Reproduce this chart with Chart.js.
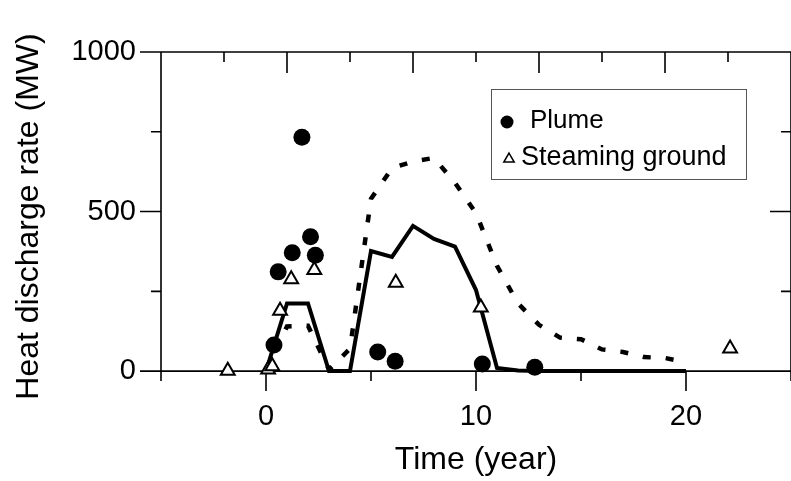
<!DOCTYPE html>
<html>
<head>
<meta charset="utf-8">
<script src="https://cdn.jsdelivr.net/npm/chart.js@4"></script>
<style>
html, body { margin: 0; padding: 0; background: #fff; overflow: hidden; }
canvas { display: block; }
</style>
</head>
<body>
<canvas id="heatChart" width="810" height="481"></canvas>
<script>
// Plume observations (year, MW)
const plumeYears = [0.38, 0.58, 1.25, 1.71, 2.12, 2.35, 5.32, 6.15, 10.3, 12.8];
const plumeMW = [82, 311, 371, 733, 421, 363, 60, 31, 22, 12];

// Steaming ground observations
const groundYears = [-1.82, 0.1, 0.3, 0.67, 1.2, 2.3, 6.18, 10.23, 22.1];
const groundMW = [1, 5, 15, 189, 288, 317, 277, 199, 71];

// Model curves, yearly
const modelYears = [0, 1, 2, 3, 4, 5, 6, 7, 8, 9, 10, 11, 12, 13, 14, 15, 16, 17, 18, 19, 20];
const modelSolid = [0, 212, 212, 0, 0, 376, 358, 455, 414, 390, 254, 10, 2, 0, 0, 0, 0, 0, 0, 0, 0];
const modelDashed = [0, 140, 142, 5, 70, 540, 636, 657, 668, 590, 495, 330, 212, 145, 105, 100, 68, 60, 44, 41, 28];

// Axis ticks
const xLabelTicks = [0, 10, 20];
const yLabelTicks = [0, 500, 1000];
const yTicks = [0, 250, 500, 750, 1000];
const xBottomTicks = [-5, 0, 5, 10, 15, 20, 25];
const xTopTicks = [-5, -2, 1, 4, 7, 10, 13, 16, 19, 22, 25];

const fontFamily = '"Liberation Sans", Arial, sans-serif';

function toPoints(xs, ys) {
    return xs.map((x, i) => ({ x: x, y: ys[i] }));
}

// Crossing axes with major / minor ticks
const axesFrame = {
    id: 'axesFrame',
    beforeDatasetsDraw(chart) {
        const { ctx, chartArea: a, scales: { x, y } } = chart;
        const y0 = y.getPixelForValue(0);
        const yTop = y.getPixelForValue(1000);
        ctx.save();
        ctx.strokeStyle = '#000';
        ctx.lineWidth = 1.6;
        ctx.beginPath();
        ctx.moveTo(a.left, yTop); ctx.lineTo(a.left, a.bottom);
        ctx.moveTo(a.right, yTop); ctx.lineTo(a.right, a.bottom);
        ctx.moveTo(a.left - 21, y0); ctx.lineTo(a.right, y0);
        ctx.moveTo(a.left - 21, yTop); ctx.lineTo(a.right, yTop);
        yTicks.forEach(v => {
            const py = y.getPixelForValue(v);
            const len = v % 500 === 0 ? 21 : 10;
            ctx.moveTo(a.left - len, py); ctx.lineTo(a.left, py);
            ctx.moveTo(a.right - len, py); ctx.lineTo(a.right, py);
        });
        xBottomTicks.forEach(v => {
            const px = x.getPixelForValue(v);
            const len = v % 10 === 0 ? 20 : 10;
            ctx.moveTo(px, y0); ctx.lineTo(px, y0 + len);
        });
        xTopTicks.forEach((v, i) => {
            const px = x.getPixelForValue(v);
            const len = i % 2 === 0 ? 21 : 10;
            ctx.moveTo(px, yTop); ctx.lineTo(px, yTop + len);
        });
        ctx.stroke();
        ctx.restore();
    }
};

// Boxed legend
const boxLegend = {
    id: 'boxLegend',
    afterDraw(chart) {
        const ctx = chart.ctx;
        ctx.save();
        ctx.strokeStyle = '#555';
        ctx.lineWidth = 1;
        ctx.strokeRect(491.5, 89.5, 255, 90);
        ctx.fillStyle = '#000';
        ctx.beginPath();
        ctx.arc(507, 122, 6.5, 0, Math.PI * 2);
        ctx.fill();
        ctx.fillStyle = '#fff';
        ctx.strokeStyle = '#000';
        ctx.lineWidth = 1.5;
        Chart.helpers.drawPoint(ctx, { pointStyle: 'triangle', radius: 6, rotation: 0, borderWidth: 1.5 }, 509, 159);
        ctx.fillStyle = '#000';
        ctx.textBaseline = 'middle';
        ctx.font = '26px ' + fontFamily;
        ctx.fillText('Plume', 530, 121);
        ctx.font = '27px ' + fontFamily;
        ctx.fillText('Steaming ground', 521, 158);
        ctx.restore();
    }
};

const tickFont = { family: fontFamily, size: 29 };

new Chart(document.getElementById('heatChart'), {
    type: 'scatter',
    data: {
        datasets: [
            {
                label: 'Model dashed',
                data: toPoints(modelYears, modelDashed),
                showLine: true,
                borderColor: '#000',
                borderWidth: 4.5,
                borderDash: [8, 15],
                borderCapStyle: 'butt',
                pointRadius: 0,
                tension: 0,
                order: 4
            },
            {
                label: 'Model solid',
                data: toPoints(modelYears, modelSolid),
                showLine: true,
                borderColor: '#000',
                borderWidth: 4,
                borderJoinStyle: 'miter',
                pointRadius: 0,
                tension: 0,
                order: 3
            },
            {
                label: 'Plume',
                data: toPoints(plumeYears, plumeMW),
                pointStyle: 'circle',
                pointRadius: 8.5,
                backgroundColor: '#000',
                borderColor: '#000',
                borderWidth: 0,
                order: 2
            },
            {
                label: 'Steaming ground',
                data: toPoints(groundYears, groundMW),
                pointStyle: 'triangle',
                pointRadius: 8,
                backgroundColor: '#fff',
                borderColor: '#000',
                borderWidth: 2,
                order: 1
            }
        ]
    },
    options: {
        responsive: false,
        animation: false,
        devicePixelRatio: 1,
        layout: { padding: { left: 0, top: 52, right: 11, bottom: 0 } },
        plugins: {
            legend: { display: false },
            tooltip: { enabled: false }
        },
        scales: {
            x: {
                type: 'linear',
                position: 'bottom',
                min: -5,
                max: 25,
                afterFit: (s) => { s.height = 100; },
                afterBuildTicks: (s) => { s.ticks = xBottomTicks.map(v => ({ value: v })); },
                grid: { display: false, drawTicks: false },
                border: { display: false },
                ticks: {
                    autoSkip: false,
                    maxRotation: 0,
                    padding: 19,
                    color: '#000',
                    font: tickFont,
                    callback: (v) => xLabelTicks.includes(Math.round(v)) ? String(Math.round(v)) : ''
                },
                title: {
                    display: true,
                    text: 'Time (year)',
                    color: '#000',
                    font: { family: fontFamily, size: 32 },
                    padding: { top: 0, bottom: 2 }
                }
            },
            y: {
                type: 'linear',
                position: 'left',
                min: -31,
                max: 1000,
                afterFit: (s) => { s.width = 161; },
                afterBuildTicks: (s) => { s.ticks = yTicks.map(v => ({ value: v })); },
                grid: { display: false, drawTicks: false },
                border: { display: false },
                ticks: {
                    autoSkip: false,
                    padding: 25,
                    color: '#000',
                    font: tickFont,
                    callback: (v) => yLabelTicks.includes(Math.round(v)) ? String(Math.round(v)) : ''
                },
                title: {
                    display: true,
                    text: 'Heat discharge rate (MW)',
                    color: '#000',
                    font: { family: fontFamily, size: 32 },
                    padding: { top: 10, bottom: 0 }
                }
            }
        }
    },
    plugins: [axesFrame, boxLegend]
});
</script>
</body>
</html>
